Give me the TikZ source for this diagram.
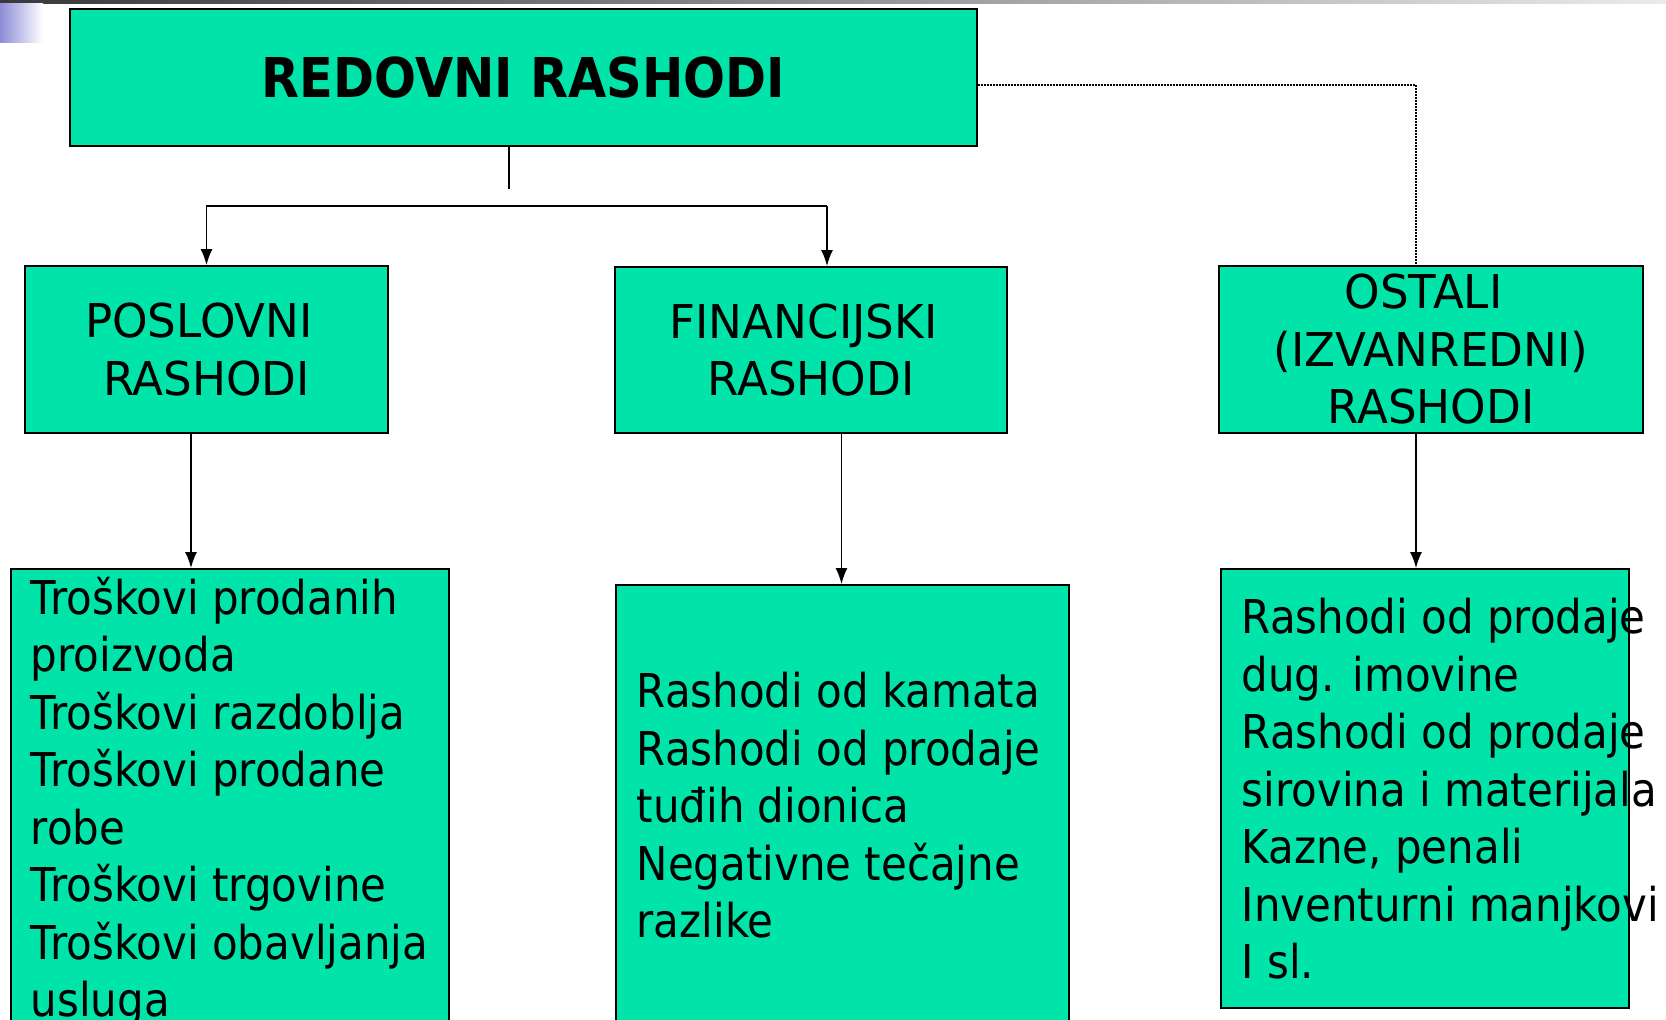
\documentclass[tikz,border=0pt]{standalone}
\usepackage{fontspec}
\setmainfont{DejaVu Sans}[FakeStretch=0.9]
\newfontfamily\capsfamily{DejaVu Sans}[FakeStretch=0.97]
\usetikzlibrary{arrows.meta}
\usetikzlibrary{positioning}

\definecolor{boxgreen}{HTML}{00E4A9}
\definecolor{barblue}{RGB}{140,140,215}

\newcommand{\headfont}{\fontsize{54.9}{66}\selectfont\bfseries}
\newcommand{\itemfont}{\fontsize{46.6}{57.5}\selectfont}
\newcommand{\capsfont}{\capsfamily\fontsize{46.6}{57.5}\selectfont}
\newcommand{\tsp}{\hspace*{15pt}}

\begin{document}
\begin{tikzpicture}[>={Latex[length=16pt,width=12pt]},x=1pt,y=-1pt,line width=1.5pt,
  box/.style={draw,line width=2pt,fill=boxgreen,align=center,inner sep=0pt,font=\capsfont},
  txt/.style={anchor=north west,align=left,inner sep=0pt,font=\itemfont}]

\useasboundingbox (0,0) rectangle (1666,1020);
\shade[left color=black!78,right color=black!8] (0,0) rectangle (1666,3);
\shade[left color=barblue,right color=white] (0,3) rectangle (43,42);

\node[box,minimum width=907pt,minimum height=137pt,font=\headfont] (red) at (523.5,77.5) {REDOVNI RASHODI};

\node[box,minimum width=363pt,minimum height=167pt] (posl) at (206.5,349.5) {POSLOVNI\tsp\\RASHODI};
\node[box,minimum width=392pt,minimum height=166pt] (fin) at (811,350) {FINANCIJSKI\tsp\\RASHODI};
\node[box,minimum width=424pt,minimum height=167pt] (ost) at (1431,349.5) {OSTALI\tsp\\(IZVANREDNI)\tsp\\RASHODI};

\node[box,anchor=north west,minimum width=438pt,minimum height=470pt] (posl-list) at (10,568) {};
\node[box,anchor=north west,minimum width=453pt,minimum height=450pt] (fin-list) at (615,584) {};
\node[box,anchor=north west,minimum width=408pt,minimum height=439pt] (ost-list) at (1220,568) {};

\node[txt] (posl-txt) at (30,576) {Troškovi prodanih\\proizvoda\\Troškovi razdoblja\\Troškovi prodane\\robe\\Troškovi trgovine\\Troškovi obavljanja\\usluga};
\node[txt] (fin-txt) at (636,671.5) {Rashodi od kamata\\Rashodi od prodaje\\tuđih dionica\\Negativne tečajne\\razlike};
\node[txt] (ost-txt) at (1241,597.5) {Rashodi od prodaje\\dug. imovine\\Rashodi od prodaje\\sirovina i materijala\\Kazne, penali\\Inventurni manjkovi\\I sl.};

% spojnice
\coordinate (stub) at (509,189);
\coordinate (barL) at (206.5,206);
\coordinate (barR) at (827,206);
\draw (red.south -| stub) -- (stub);
\draw[->] (barR) -- (barL) -- (posl.north);
\draw[->] (barR) -- (fin.north -| barR);

\draw[->] ([xshift=-15.5pt]posl.south) -- ([xshift=-15.5pt]posl.south |- posl-list.north);
\draw[->] ([xshift=30.5pt]fin.south) -- ([xshift=30.5pt]fin.south |- fin-list.north);
\draw[->] ([xshift=-15pt]ost.south) -- ([xshift=-15pt]ost.south |- ost-list.north);

\draw[dash pattern=on 1.5pt off 1.5pt] ([yshift=-7.5pt]red.east) -| ([xshift=-15pt]ost.north);
\end{tikzpicture}
\end{document}
